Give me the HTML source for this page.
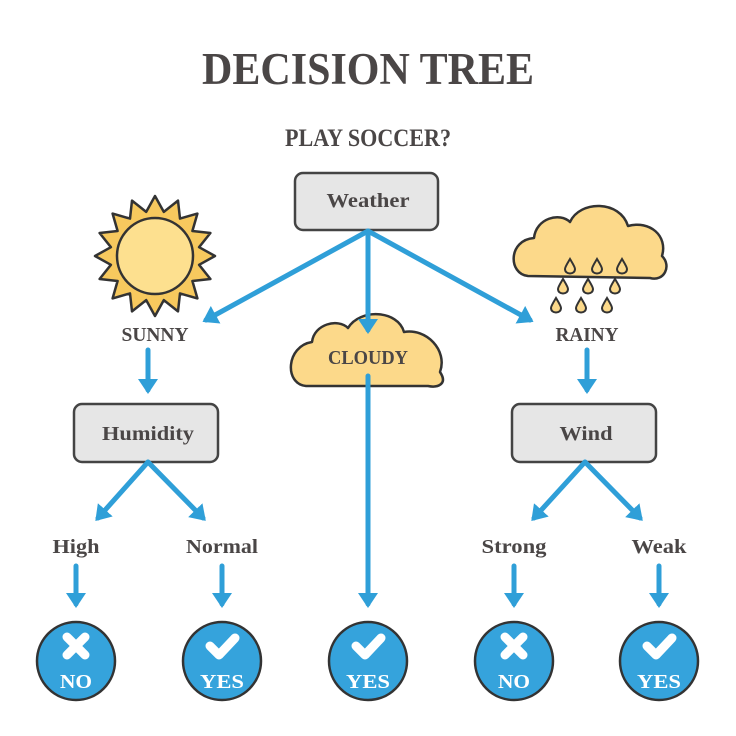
<!DOCTYPE html>
<html><head><meta charset="utf-8"><style>body{margin:0;background:#fff}svg{display:block}text{font-family:"Liberation Serif",serif;font-weight:bold;fill:#4a4646}</style></head><body>
<svg width="736" height="736" viewBox="0 0 736 736" xmlns="http://www.w3.org/2000/svg">
<defs>
<marker id="ah" markerWidth="4" markerHeight="4" refX="2.2" refY="2" orient="auto" markerUnits="strokeWidth"><path d="M0,0 L3,2 L0,4 Z" fill="#2f9fd8"/></marker>
<path id="drop" d="M0,-7 C-3,-2 -5,1 -5,3 C-5,6 -2.5,7.5 0,7.5 C2.5,7.5 5,6 5,3 C5,1 3,-2 0,-7Z"/>
</defs>
<text x="368" y="84" font-size="45" text-anchor="middle" textLength="332" lengthAdjust="spacingAndGlyphs">DECISION TREE</text>
<text x="368" y="146" font-size="25" text-anchor="middle" textLength="166" lengthAdjust="spacingAndGlyphs">PLAY SOCCER?</text>

<!-- Sun -->
<g transform="translate(155,256)">
<polygon points="60,0 44.1,8.8 55.4,23 37.4,25 42.4,42.4 25,37.4 23,55.4 8.8,44.1 0,60 -8.8,44.1 -23,55.4 -25,37.4 -42.4,42.4 -37.4,25 -55.4,23 -44.1,8.8 -60,0 -44.1,-8.8 -55.4,-23 -37.4,-25 -42.4,-42.4 -25,-37.4 -23,-55.4 -8.8,-44.1 0,-60 8.8,-44.1 23,-55.4 25,-37.4 42.4,-42.4 37.4,-25 55.4,-23 44.1,-8.8" fill="#f7c95e" stroke="#333" stroke-width="2.5" stroke-linejoin="round"/>
<circle r="38" fill="#fde08f" stroke="#333" stroke-width="2.5"/>
</g>

<!-- Rain cloud -->
<path d="M528,276 C508,274 508,240 534,238 C536,218 560,212 570,222 C580,200 620,200 628,226 C650,220 668,236 662,256 C672,266 664,282 650,278 Z" fill="#fcd98a" stroke="#333" stroke-width="2.5" stroke-linejoin="round"/>
<g fill="#fcd98a" stroke="#333" stroke-width="2">
<use href="#drop" x="570" y="266"/><use href="#drop" x="597" y="266"/><use href="#drop" x="622" y="266"/>
<use href="#drop" x="563" y="286"/><use href="#drop" x="588" y="286"/><use href="#drop" x="615" y="286"/>
<use href="#drop" x="556" y="305"/><use href="#drop" x="581" y="305"/><use href="#drop" x="607" y="305"/>
</g>

<!-- Cloudy cloud -->
<path d="M306,386 C284,384 286,346 312,342 C314,324 338,318 348,328 C360,308 398,310 404,332 C426,328 448,350 440,372 C448,384 438,388 428,386 Z" fill="#fcd98a" stroke="#333" stroke-width="2.5" stroke-linejoin="round"/>

<!-- Boxes -->
<rect x="295" y="173" width="143" height="57" rx="8" fill="#e6e6e6" stroke="#444" stroke-width="2.5"/>
<rect x="74" y="404" width="144" height="58" rx="8" fill="#e6e6e6" stroke="#444" stroke-width="2.5"/>
<rect x="512" y="404" width="144" height="58" rx="8" fill="#e6e6e6" stroke="#444" stroke-width="2.5"/>

<!-- Arrows -->
<g stroke="#2f9fd8" stroke-width="5" stroke-linecap="round" fill="none" marker-end="url(#ah)">
<line x1="368" y1="231" x2="206" y2="320"/>
<line x1="368" y1="231" x2="368" y2="330"/>
<line x1="368" y1="231" x2="530" y2="320"/>
<line x1="148" y1="350" x2="148" y2="390"/>
<line x1="587" y1="350" x2="587" y2="390"/>
<line x1="148" y1="462" x2="98" y2="518"/>
<line x1="148" y1="462" x2="203" y2="518"/>
<line x1="585" y1="462" x2="534" y2="518"/>
<line x1="585" y1="462" x2="640" y2="518"/>
<line x1="76" y1="566" x2="76" y2="604"/>
<line x1="222" y1="566" x2="222" y2="604"/>
<line x1="514" y1="566" x2="514" y2="604"/>
<line x1="659" y1="566" x2="659" y2="604"/>
<line x1="368" y1="376" x2="368" y2="604"/>
</g>

<!-- Labels -->
<g font-size="20" text-anchor="middle">
<text x="368" y="207" textLength="83" lengthAdjust="spacingAndGlyphs">Weather</text>
<text x="148" y="440" textLength="92" lengthAdjust="spacingAndGlyphs">Humidity</text>
<text x="586" y="440" textLength="53" lengthAdjust="spacingAndGlyphs">Wind</text>
<text x="155" y="341" textLength="67" lengthAdjust="spacingAndGlyphs">SUNNY</text>
<text x="368" y="364" textLength="80" lengthAdjust="spacingAndGlyphs">CLOUDY</text>
<text x="587" y="341" textLength="63" lengthAdjust="spacingAndGlyphs">RAINY</text>
<text x="76" y="553" textLength="47" lengthAdjust="spacingAndGlyphs">High</text>
<text x="222" y="553" textLength="72" lengthAdjust="spacingAndGlyphs">Normal</text>
<text x="514" y="553" textLength="65" lengthAdjust="spacingAndGlyphs">Strong</text>
<text x="659" y="553" textLength="55" lengthAdjust="spacingAndGlyphs">Weak</text>
</g>

<!-- Result circles -->
<g stroke="#333" stroke-width="2.5" fill="#35a3dc">
<circle cx="76" cy="661" r="39"/><circle cx="222" cy="661" r="39"/><circle cx="368" cy="661" r="39"/><circle cx="514" cy="661" r="39"/><circle cx="659" cy="661" r="39"/>
</g>
<g stroke="#fff" stroke-width="9" stroke-linecap="round" stroke-linejoin="round" fill="none">
<path d="M67,637 L85,655 M85,637 L67,655"/>
<path d="M505,637 L523,655 M523,637 L505,655"/>
<path d="M210,646 L219,655 L235,638"/>
<path d="M356,646 L365,655 L381,638"/>
<path d="M647,646 L656,655 L672,638"/>
</g>
<g font-size="20" text-anchor="middle">
<text x="76" y="688" style="fill:#fff" textLength="32" lengthAdjust="spacingAndGlyphs">NO</text>
<text x="222" y="688" style="fill:#fff" textLength="44" lengthAdjust="spacingAndGlyphs">YES</text>
<text x="368" y="688" style="fill:#fff" textLength="44" lengthAdjust="spacingAndGlyphs">YES</text>
<text x="514" y="688" style="fill:#fff" textLength="32" lengthAdjust="spacingAndGlyphs">NO</text>
<text x="659" y="688" style="fill:#fff" textLength="44" lengthAdjust="spacingAndGlyphs">YES</text>
</g>
</svg>
</body></html>
